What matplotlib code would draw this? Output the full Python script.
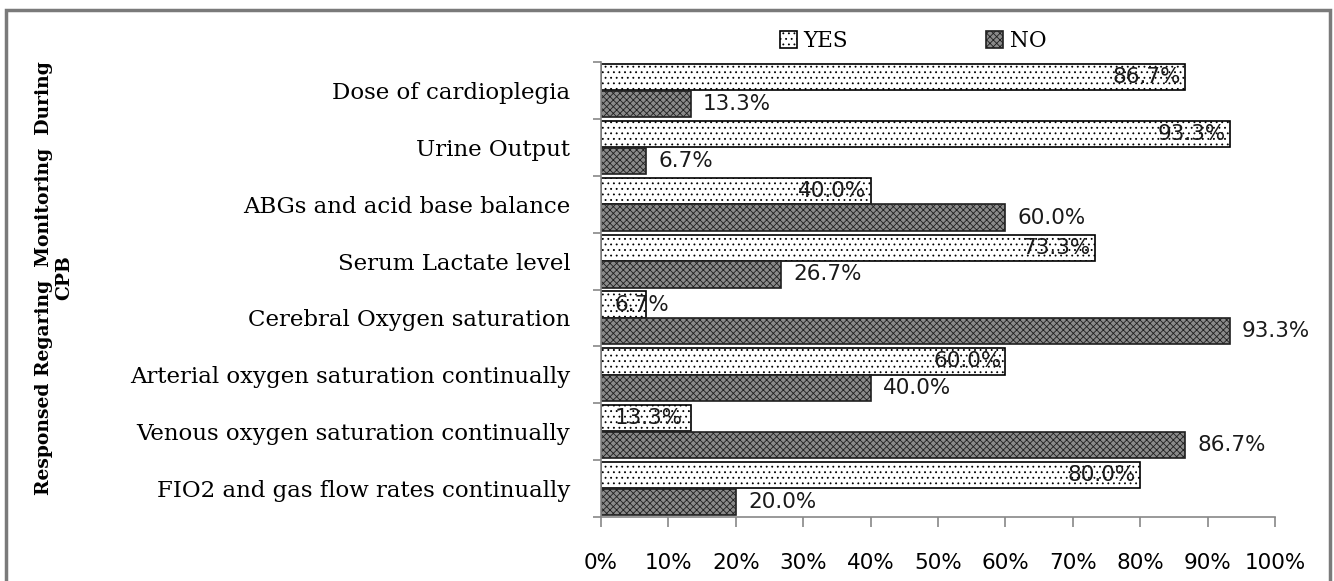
import matplotlib
matplotlib.use("Agg")
import matplotlib.pyplot as plt
from matplotlib.patches import Rectangle
import numpy as np

# data (top to bottom)
categories = ["Dose of cardioplegia", "Urine Output", "ABGs and acid base balance",
              "Serum Lactate level", "Cerebral Oxygen saturation",
              "Arterial oxygen saturation continually",
              "Venous oxygen saturation continually",
              "FIO2 and gas flow rates continually"]
yes_vals = [86.7, 93.3, 40.0, 73.3, 6.7, 60.0, 13.3, 80.0]
no_vals = [13.3, 6.7, 60.0, 26.7, 93.3, 40.0, 86.7, 20.0]
xticks = list(range(0, 101, 10))

plt.rcParams['hatch.linewidth'] = 0.6
W, H = 1334, 581
fig = plt.figure(figsize=(W / 100, H / 100), dpi=100)
ax = fig.add_axes([601 / W, 1 - 517 / H, (1275 - 601) / W, (517 - 62) / H])

y = np.arange(len(categories))
off = 0.235
bh = 0.46
ax.barh(y - off, yes_vals, height=bh, color="white", edgecolor="black",
        hatch="...", linewidth=1.2, label="YES")
ax.barh(y + off, no_vals, height=bh, color="#8a8a8a", edgecolor="#202020",
        hatch="xxxxx", linewidth=1.2, label="NO")

lab_font = dict(family="DejaVu Sans", size=15.5, color="#1a1a1a")
for i, v in enumerate(yes_vals):
    if v >= 15:
        ax.text(v - 0.6, i - off, f"{v:.1f}%", ha="right", va="center", **lab_font)
    else:
        ax.text(2, i - off, f"{v:.1f}%", ha="left", va="center", **lab_font)
for i, v in enumerate(no_vals):
    ax.text(v + 1.8, i + off, f"{v:.1f}%", ha="left", va="center", **lab_font)

ax.set_xlim(0, 100)
ax.set_ylim(len(categories) - 0.5, -0.5)
ax.set_xticks(xticks)
ax.set_xticklabels([f"{t}%" for t in xticks], family="DejaVu Sans", fontsize=15.5)
ax.set_yticks(y)
ax.set_yticklabels(categories, family="DejaVu Serif", fontsize=16.5)
ax.set_yticks(np.arange(-0.5, len(categories), 1), minor=True)
ax.tick_params(axis="y", which="major", length=0, pad=22)
ax.tick_params(axis="y", which="minor", length=6, color="#888888", width=1.2)
ax.tick_params(axis="x", length=7, color="#888888", width=1.2, pad=19)
for s in ["top", "right"]:
    ax.spines[s].set_visible(False)
for s in ["left", "bottom"]:
    ax.spines[s].set_color("#888888")
    ax.spines[s].set_linewidth(1.2)

ax.set_ylabel("Responsed Regaring  Monitoring  During\nCPB", family="DejaVu Serif",
              fontweight="bold", fontsize=13.5, labelpad=0, linespacing=1.15)
ax.yaxis.set_label_coords(-1 * (601 - 73) / (1275 - 601), 0.525)

fig.legend(loc="center left", bbox_to_anchor=(780 / W, 1 - 41 / H), ncol=2,
           frameon=False, borderpad=0, borderaxespad=0, handlelength=0.8,
           handleheight=0.8, handletextpad=0.3, columnspacing=6.4,
           prop=dict(family="DejaVu Serif", size=15.5))

# outer frame of the original figure
fig.patches.append(Rectangle((6 / W, -0.05), (1330 - 6) / W, 1.05 - 10 / H,
                             transform=fig.transFigure, fill=False,
                             edgecolor="#7a7a7a", linewidth=2.5))

fig.savefig("out.png", dpi=100)
